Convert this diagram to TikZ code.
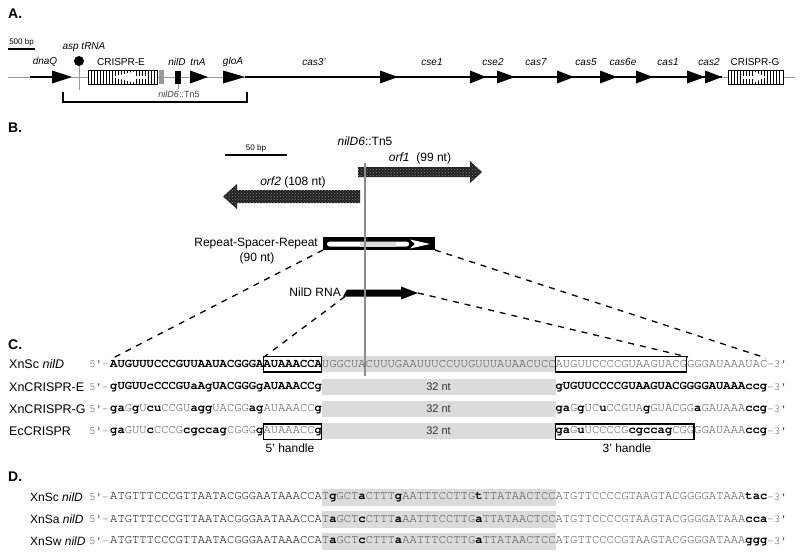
\documentclass[tikz,border=0pt]{standalone}
\usepackage{fontspec}
\setmainfont{Liberation Sans}
\newcommand{\seqfam}{\fontencoding{T1}\fontfamily{pcr}\selectfont}
\usetikzlibrary{patterns}

\definecolor{linegray}{gray}{0.6}
\definecolor{shadegray}{gray}{0.86}
\definecolor{basegray}{gray}{0.3}
\newcommand{\mut}[1]{{\bfseries\color{black}#1}}

\begin{document}
\begin{tikzpicture}[x=1pt,y=-1pt,
  panel/.style={font=\fontsize{14}{16}\selectfont\bfseries,inner sep=0,anchor=west},
  genename/.style={font=\fontsize{10}{12}\selectfont\itshape,inner sep=0},
  lbl/.style={font=\fontsize{12}{14}\selectfont,inner sep=0},
  small/.style={font=\fontsize{8}{10}\selectfont,inner sep=0},
  geneline/.style={line width=1.6},
  backbone/.style={draw=linegray,line width=1},
  repeatbox/.style={draw=black,fill=white,line width=0.8},
  orfarrow/.style={fill=black!88,postaction={pattern=crosshatch dots,pattern color=black!45}},
  linkdash/.style={line width=1.3,dash pattern=on 6pt off 6pt},
  rowname/.style={font=\fontsize{12.5}{15}\selectfont,inner sep=0,anchor=west},
  seqtext/.style={font=\fontsize{12.17}{14}\seqfam,text=basegray,inner sep=0,anchor=west},
  endtext/.style={font=\fontsize{11}{13}\seqfam,text=basegray,inner sep=0},
  band/.style={fill=shadegray},
  handle/.style={draw=black,line width=1.2}]
\useasboundingbox (0,0) rectangle (800,555);

% A. the locus
\node[panel] (pA) at (8,14) {A.};
\draw[line width=1.2] (8,49) -- (35,49);
\node[small] (barA) at (21.5,42) {500 bp};
\draw[backbone] (8,77) -- (795,77);
\draw[geneline] (30,77) -- (53,77);
\draw[geneline] (245,77) -- (722,77);
\foreach \a/\b in {52/72,190/208,223/245,380/398,470/486,497/515,557/574,600/617,636/653,687/705,705/722}
  \fill (\a,70.5) -- (\b,77) -- (\a,83.5) -- cycle;
\draw[backbone] (79,62) -- (79,90);
\fill (79,61) circle (5);
\draw[repeatbox] (88,70) rectangle (157,84);
\foreach \x in {91,94,...,155} \draw[line width=0.9] (\x,70) -- (\x,84);
\fill[white] (112,77) -- (134,71.5) -- (134,82.5) -- cycle;
\fill[white] (133,75.5) rectangle (148,78.5);
\fill[linegray] (159,70) rectangle (164,84);
\fill (175,71) rectangle (181,84);
\draw[backbone] (178,84) -- (178,89);
\draw[repeatbox] (728,70) rectangle (783,84);
\foreach \x in {731,734,...,781} \draw[line width=0.9] (\x,70) -- (\x,84);
\fill[white] (766,77) -- (754,71.5) -- (754,82.5) -- cycle;
\fill[white] (743,75.5) rectangle (755,78.5);
\draw[line width=1.2] (63,92) -- (63,102) -- (247,102) -- (247,92);
\node[genename] (dnaq) at (45,62) {dnaQ};
\node[genename] (trna) at (84,47) {asp tRNA};
\node[genename,font=\fontsize{10}{12}\selectfont] (crE) at (121,62) {CRISPR-E};
\node[genename] (nild) at (177,62) {nilD};
\node[genename] (tna) at (198,62) {tnA};
\node[genename] (gloa) at (233,62) {gloA};
\node[genename] (cas3) at (314,62) {cas3'};
\node[genename] (cse1) at (432,62) {cse1};
\node[genename] (cse2) at (493,62) {cse2};
\node[genename] (cas7) at (536,62) {cas7};
\node[genename] (cas5) at (586,62) {cas5};
\node[genename] (cas6e) at (623,62) {cas6e};
\node[genename] (cas1) at (668,62) {cas1};
\node[genename] (cas2) at (709,62) {cas2};
\node[genename,font=\fontsize{10}{12}\selectfont] (crG) at (755,62) {CRISPR-G};
\node[genename,font=\fontsize{9}{11}\selectfont,text=black!75] (tnA5) at (179,94) {\textit{nilD6}::Tn5};

% B. the nilD region
\node[panel] (pB) at (8,128) {B.};
\draw[line width=1.2] (225,155) -- (287,155);
\node[small] (barB) at (256,148) {50 bp};
\node[lbl] (ins) at (365,141) {\textit{nilD6}::Tn5};
\path[orfarrow] (358,167) -- (470,167) -- (470,161) -- (482,172) -- (470,183) -- (470,177) -- (358,177) -- cycle;
\path[orfarrow] (360,190) -- (237,190) -- (237,184) -- (223,196.5) -- (237,209) -- (237,203) -- (360,203) -- cycle;
\node[lbl] (orf1) at (420,158) {\textit{orf1}~ (99 nt)};
\node[lbl] (orf2) at (293,182) {\textit{orf2} (108 nt)};
\node[fill=black,minimum width=112,minimum height=13,inner sep=0] (rsr) at (379,243.5) {};
\fill[white,rounded corners=2.5] (327,241.5) rectangle (409,246.5);
\fill[shadegray] (360,241.5) rectangle (396,246.5);
\fill[white] (410,239.5) -- (430,244) -- (410,248.5) -- (415,244) -- cycle;
\node[lbl,anchor=east] (rsrname) at (318,244) {Repeat-Spacer-Repeat};
\node[lbl] (rsrlen) at (257,258) {(90 nt)};
\fill (347,289.5) -- (401,289.5) -- (401,286.5) -- (418,293) -- (401,299.5) -- (401,296.5) -- (343,296.5) -- cycle;
\node[lbl,anchor=east] (rna) at (341,292) {NilD RNA};
\coordinate (rsrL) at (323,250);
\coordinate (rsrR) at (435,250);
\coordinate (rnaL) at (345,296.5);
\coordinate (rnaR) at (418,293);
\coordinate (s1L) at (113,358);
\coordinate (h5L) at (264,357);
\coordinate (h3R) at (688,357);
\coordinate (s1R) at (766,358);
\draw[linkdash] (rsrL) -- (s1L);
\draw[linkdash] (rnaL) -- (h5L);
\draw[linkdash] (rnaR) -- (h3R);
\draw[linkdash] (rsrR) -- (s1R);

% C. repeats
\node[panel] (pC) at (8,345) {C.};
\foreach \y in {364,387,409,431} \fill[band] (322,\y-8) rectangle (556,\y+8);
\draw[draw=black!45,line width=1.2] (365,163) -- (365,376);
\node[rowname] (r1) at (9,364) {XnSc \textit{nilD}};
\node[rowname] (r2) at (9,387) {XnCRISPR-E};
\node[rowname] (r3) at (9,409) {XnCRISPR-G};
\node[rowname] (r4) at (9,431) {EcCRISPR};
\foreach \y in {364,387,409,431} \node[endtext,anchor=east] at (109,\y) {5\textquotesingle-};
\foreach \y in {364,387,409,431} \node[endtext,anchor=west] at (767,\y) {-3\textquotesingle};
\node[seqtext] (q1) at (110,364) {{\bfseries\color{black}AUGUUUCCCGUUAAUACGGGAAUAAACCA}UGGCUACUUUGAAUUUCCUUGUUUAUAACUCCAUGUUCCCCGUAAGUACGGGGAUAAAUAC};
\node[seqtext] (q2l) at (110,387) {\mut{gUGUUcCCCGUaAgUACGGGgAUAAACCg}};
\node[seqtext] (q2r) at (555.3,387) {\mut{gUGUUCCCCGUAAGUACGGGGAUAAAccg}};
\node[seqtext] (q3l) at (110,409) {\mut{ga}G\mut{g}U\mut{cu}CCGU\mut{agg}UACGG\mut{ag}AUAAACC\mut{g}};
\node[seqtext] (q3r) at (555.3,409) {\mut{ga}G\mut{g}UC\mut{u}CCGUA\mut{g}GUACGG\mut{a}GAUAAA\mut{ccg}};
\node[seqtext] (q4l) at (110,431) {\mut{ga}GUU\mut{c}CCCG\mut{cgccag}CGGG\mut{g}AUAAACC\mut{g}};
\node[seqtext] (q4r) at (555.3,431) {\mut{ga}G\mut{u}UCCCCG\mut{cgccag}CGGGGAUAAA\mut{ccg}};
\foreach \y in {387,409,431} \node[lbl,font=\fontsize{11}{13}\selectfont,text=black!80] at (438.5,\y) {32 nt};
\draw[handle] (263.3,356.5) rectangle (321.7,372);
\draw[handle] (555.3,356.5) rectangle (686.7,372);
\draw[handle] (263.3,424) rectangle (321.7,439.5);
\draw[handle] (555.3,424) rectangle (694,439.5);
\node[lbl] (h5) at (290,448) {5' handle};
\node[lbl] (h3) at (627,448) {3' handle};

% D. nilD alleles
\node[panel] (pD) at (8,477) {D.};
\foreach \y in {497,519,541} \fill[band] (322,\y-8.5) rectangle (556,\y+8.5);
\node[rowname,font=\fontsize{12}{14}\selectfont] (d1) at (30,497) {XnSc \textit{nilD}};
\node[rowname,font=\fontsize{12}{14}\selectfont] (d2) at (30,519) {XnSa \textit{nilD}};
\node[rowname,font=\fontsize{12}{14}\selectfont] (d3) at (30,541) {XnSw \textit{nilD}};
\foreach \y in {497,519,541} \node[endtext,anchor=east] at (109,\y) {5\textquotesingle-};
\foreach \y in {497,519,541} \node[endtext,anchor=west] at (767,\y) {-3\textquotesingle};
\node[seqtext] (n1) at (110,497) {{\color{black}ATGTTTCCCGTTAATACGGGAATAAACCA}T\mut{g}GCT\mut{a}CTTT\mut{g}AATTTCCTTG\mut{t}TTATAACTCCATGTTCCCCGTAAGTACGGGGATAAA\mut{tac}};
\node[seqtext] (n2) at (110,519) {{\color{black}ATGTTTCCCGTTAATACGGGAATAAACCA}T\mut{a}GCT\mut{c}CTTT\mut{a}AATTTCCTTG\mut{a}TTATAACTCCATGTTCCCCGTAAGTACGGGGATAAA\mut{cca}};
\node[seqtext] (n3) at (110,541) {{\color{black}ATGTTTCCCGTTAATACGGGAATAAACCA}T\mut{a}GCT\mut{c}CTTT\mut{a}AATTTCCTTG\mut{a}TTATAACTCCATGTTCCCCGTAAGTACGGGGATAAA\mut{ggg}};
\end{tikzpicture}
\end{document}
